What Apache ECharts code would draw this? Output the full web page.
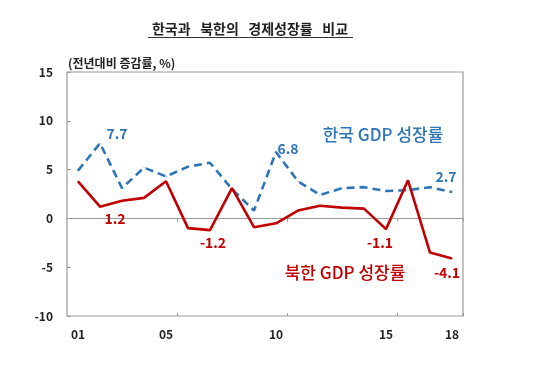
<!DOCTYPE html>
<html><head><meta charset="utf-8">
<script src="https://cdn.jsdelivr.net/npm/echarts@6/dist/echarts.min.js"></script>
<style>html,body{margin:0;padding:0;background:#fff}#c{width:550px;height:365px}</style>
</head><body><div id="c"></div>
<script>
const years = ['01','02','03','04','05','06','07','08','09','10','11','12','13','14','15','16','17','18'];
const shownYears = ['01','05','10','15','18'];
const southKorea = [4.9, 7.7, 3.1, 5.2, 4.3, 5.3, 5.7, 3.0, 0.8, 6.8, 3.8, 2.4, 3.1, 3.2, 2.8, 2.9, 3.2, 2.7];
const northKorea = [3.8, 1.2, 1.8, 2.1, 3.8, -1.0, -1.2, 3.1, -0.9, -0.5, 0.8, 1.3, 1.1, 1.0, -1.1, 3.9, -3.5, -4.1];
const southLabelIdx = [1, 9, 17];
const northLabelIdx = [1, 6, 14, 17];
const yTicks = [-10, -5, 0, 5, 10, 15];

const BLUE = '#2E75B6', RED = '#C00000';
const FONT = '"Noto Sans CJK KR", "Open Sans", sans-serif';

const southOffsets = {1: [17, -10], 9: [12, -3], 17: [-6, -15]};
const northOffsets = {1: [15, 12], 6: [3, 13], 14: [-6, 14], 17: [-5, 14]};

function buildData(vals, idxs, offsets, color) {
  return vals.map((v, i) => {
    if (idxs.indexOf(i) < 0) return v;
    return {value: v, label: {show: true, position: 'inside', offset: offsets[i],
      color: color, fontSize: 14, fontWeight: 'bold', fontFamily: FONT,
      formatter: p => Number(p.value).toFixed(1)}};
  });
}

const chart = echarts.init(document.getElementById('c'));
const grid = {left: 67, right: 87, top: 72, bottom: 49, show: true, borderColor: '#9a9a9a', borderWidth: 1.2, containLabel: false};
chart.setOption({
  animation: false,
  grid: grid,
  xAxis: [
    {type: 'category', data: years, boundaryGap: true, position: 'bottom',
     axisLine: {show: false, onZero: false}, axisTick: {show: false},
     axisLabel: {interval: (i, v) => shownYears.indexOf(v) >= 0, margin: 12,
       color: '#222', fontSize: 12, fontWeight: 'bold', fontFamily: FONT}},
    {type: 'category', data: years, boundaryGap: true, position: 'bottom',
     axisLine: {show: true, onZero: true, lineStyle: {color: '#9a9a9a', width: 1.2}},
     axisTick: {show: true, inside: false, length: 3, interval: i => i > 0 && i % 5 === 0, lineStyle: {color: '#9a9a9a'}},
     axisLabel: {show: false}},
    {type: 'category', data: years, boundaryGap: true, position: 'bottom',
     axisLine: {show: false, onZero: true},
     axisTick: {show: true, inside: true, length: 3, interval: i => i > 0 && i % 5 === 0, lineStyle: {color: '#9a9a9a'}},
     axisLabel: {show: false}}
  ],
  yAxis: {type: 'value', min: yTicks[0], max: yTicks[yTicks.length - 1], interval: 5,
    axisLine: {show: false}, splitLine: {show: false},
    axisTick: {show: true, inside: true, length: 4, lineStyle: {color: '#9a9a9a'}},
    axisLabel: {margin: 14, color: '#222', fontSize: 12, fontWeight: 'bold', fontFamily: FONT}},
  series: [
    {name: '한국 GDP 성장률', type: 'line', data: buildData(southKorea, southLabelIdx, southOffsets, BLUE),
     symbol: 'circle', symbolSize: 1, showSymbol: true, showAllSymbol: true,
     label: {show: false},
     lineStyle: {color: BLUE, width: 2.6, type: [8, 5]}, itemStyle: {color: BLUE}, z: 3},
    {name: '북한 GDP 성장률', type: 'line', data: buildData(northKorea, northLabelIdx, northOffsets, RED),
     symbol: 'circle', symbolSize: 1, showSymbol: true, showAllSymbol: true,
     label: {show: false},
     lineStyle: {color: RED, width: 2.6}, itemStyle: {color: RED}, z: 4}
  ],
  graphic: [
    {type: 'text', x: 250, y: 29, style: {text: '한국과   북한의   경제성장률   비교', fontSize: 14, fontWeight: 'bold',
      fontFamily: FONT, fill: '#222', align: 'center', verticalAlign: 'middle'}},
    {type: 'line', shape: {x1: 148, y1: 37.5, x2: 353, y2: 37.5}, style: {stroke: '#333', lineWidth: 1.2}},
    {type: 'text', x: 68, y: 63, style: {text: '(전년대비 증감률, %)', fontSize: 12, fontWeight: 'bold',
      fontFamily: FONT, fill: '#222', align: 'left', verticalAlign: 'middle'}},
    {type: 'text', x: 383, y: 135, style: {text: '한국 GDP 성장률', fontSize: 17, fontWeight: 500,
      fontFamily: FONT, fill: BLUE, align: 'center', verticalAlign: 'middle'}},
    {type: 'text', x: 345, y: 273, style: {text: '북한 GDP 성장률', fontSize: 17, fontWeight: 500,
      fontFamily: FONT, fill: RED, align: 'center', verticalAlign: 'middle'}}
  ]
});
</script></body></html>
